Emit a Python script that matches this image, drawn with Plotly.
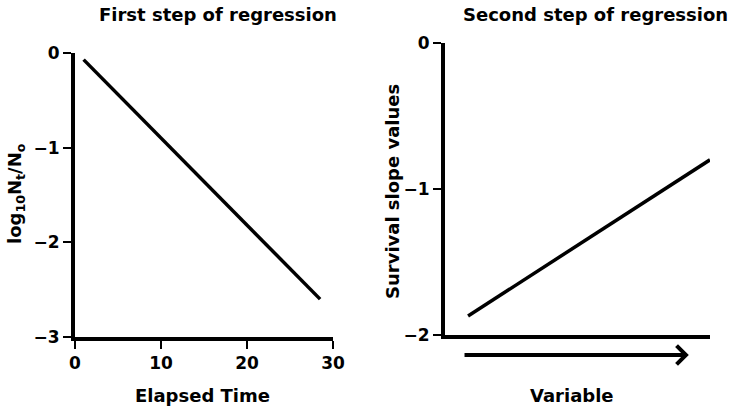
import plotly.graph_objects as go

W, H = 734, 408

# Data
time_x = [1, 28.5]
log_ratio = [-0.07, -2.6]
variable_x = [0.87, 10]
slope_values = [-1.87, -0.80]

left_xticks = [0, 10, 20, 30]
left_yticks = [0, -1, -2, -3]
right_yticks = [0, -1, -2]

FONT = "DejaVu Sans"

def px(x):
    return x / W

def py(y):
    return 1 - y / H

fig = go.Figure()
fig.add_trace(go.Scatter(x=time_x, y=log_ratio, mode="lines",
                         line=dict(color="black", width=3.5),
                         xaxis="x", yaxis="y", showlegend=False))
fig.add_trace(go.Scatter(x=variable_x, y=slope_values, mode="lines",
                         line=dict(color="black", width=3.5),
                         xaxis="x2", yaxis="y2", showlegend=False))

axis_common = dict(showline=True, linecolor="black", linewidth=4,
                   showgrid=False, zeroline=False, ticks="outside",
                   ticklen=8, tickwidth=2, tickcolor="black", automargin=False,
                   tickfont=dict(family=FONT, size=17, color="black", weight="bold"))

fig.update_layout(
    width=W, height=H,
    margin=dict(l=0, r=0, t=0, b=0, autoexpand=False),
    paper_bgcolor="white", plot_bgcolor="white",
    font=dict(family=FONT, color="black"),
    xaxis=dict(domain=[px(75), px(333)], range=[0, 30], tickvals=left_xticks,
               anchor="y", **axis_common),
    yaxis=dict(domain=[py(337), py(53)], range=[-3, 0], tickvals=left_yticks,
               ticktext=["0", "\u22121", "\u22122", "\u22123"],
               anchor="x", **axis_common),
    xaxis2=dict(domain=[px(445), px(710)], range=[0, 10], anchor="y2",
                showline=True, linecolor="black", linewidth=4, showgrid=False,
                zeroline=False, showticklabels=False, ticks="", automargin=False),
    yaxis2=dict(domain=[py(335), py(43)], range=[-2, 0], tickvals=right_yticks,
                ticktext=["0", "\u22121", "\u22122"],
                anchor="x2", **axis_common),
)

title_font = dict(family=FONT, size=18, color="black", weight="bold")
label_font = dict(family=FONT, size=18, color="black", weight="bold")

ann = [
    dict(text="First step of regression", x=px(218), y=py(15), font=title_font),
    dict(text="Second step of regression", x=px(595), y=py(15), font=title_font),
    dict(text="Elapsed Time", x=px(202), y=py(395), font=label_font),
    dict(text="Variable", x=px(572), y=py(395), font=label_font),
    dict(text="log<sub>10</sub>N<sub>t</sub>/N<sub>o</sub>", x=px(16), y=py(194),
         font=label_font, textangle=-90),
    dict(text="Survival slope values", x=px(392), y=py(192), font=label_font,
         textangle=-90),
]
for a in ann:
    fig.add_annotation(xref="paper", yref="paper", showarrow=False,
                       xanchor="center", yanchor="middle", **a)

# Arrow under the "Variable" axis
fig.add_annotation(x=9.2, y=py(355), ax=0.68, ay=0,
                   xref="x2", yref="paper", axref="x2", ayref="pixel",
                   showarrow=True, arrowhead=4, arrowsize=0.9, arrowwidth=4,
                   arrowcolor="black", text="")

fig.write_html("out.html",
               config={"displayModeBar": False},
               post_script="document.body.style.margin='0';document.body.style.overflow='hidden';")
